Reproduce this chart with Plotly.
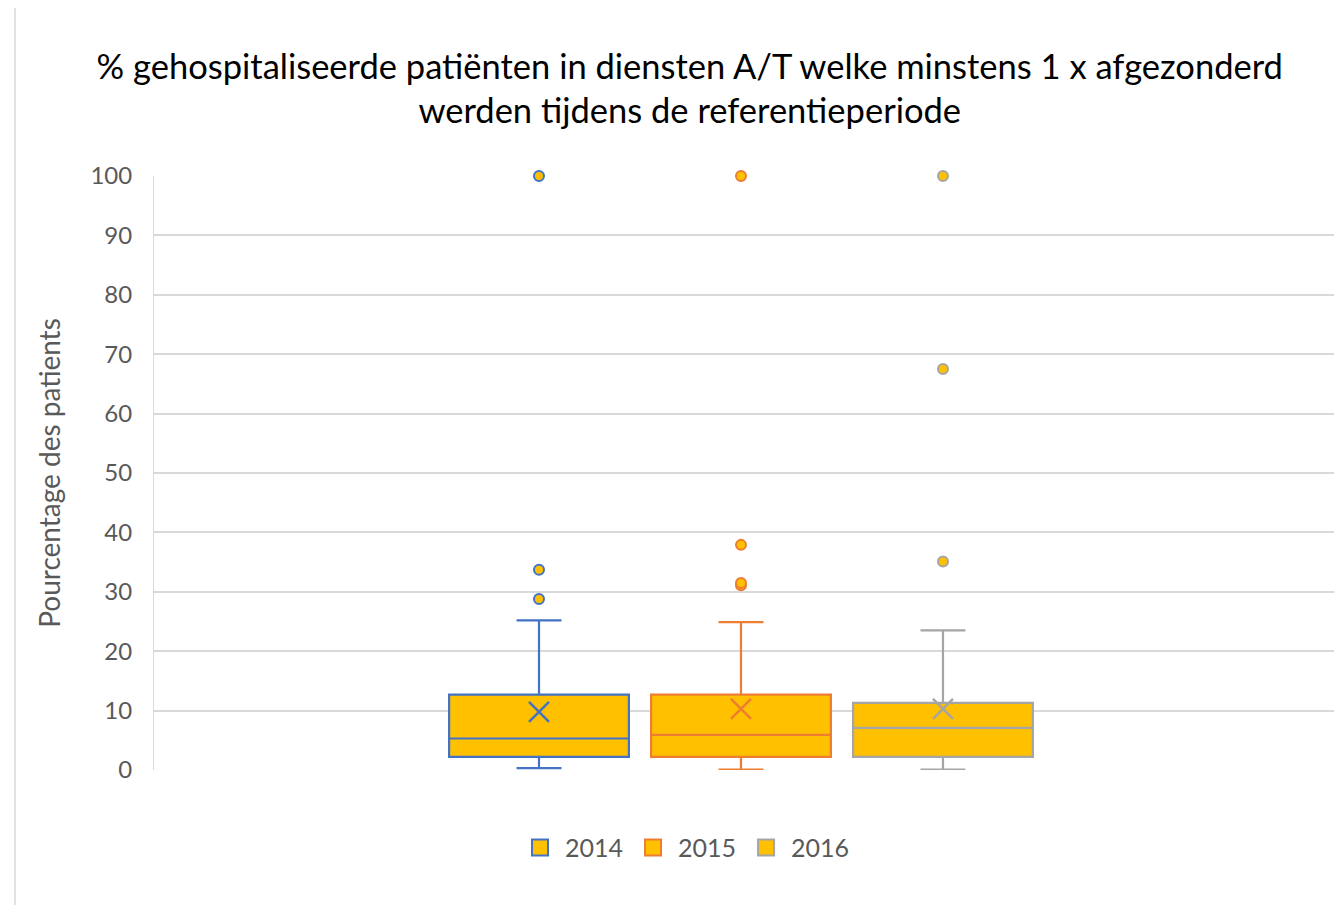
import plotly.graph_objs as go

years = ['2014', '2015', '2016']
colors = ['#4472C4', '#ED7D31', '#A5A5A5']

q1 = [2.2, 2.2, 2.2]
median = [5.3, 5.9, 7.1]
q3 = [12.7, 12.7, 11.3]
lower_whisker = [0.3, 0.05, 0.05]
upper_whisker = [25.2, 24.9, 23.5]
mean = [9.8, 10.3, 10.3]
outliers = [
    [28.8, 33.7, 100],
    [31.1, 31.5, 37.9, 100],
    [35.1, 67.5, 100],
]

title_text = ('% gehospitaliseerde patiënten in diensten A/T welke minstens 1 x afgezonderd'
              '<br>werden tijdens de referentieperiode')

font = 'Lato, Noto Sans, sans-serif'

graph = []
for i, year in enumerate(years):
    graph.append(
      go.Box(
      x = [year],
      q1 = [q1[i]],
      median = [median[i]],
      q3 = [q3[i]],
      lowerfence = [lower_whisker[i]],
      upperfence = [upper_whisker[i]],
      name = year,
      showlegend = False,
      boxpoints = False,
      width = 0.89,
      whiskerwidth = 0.25,
      fillcolor = '#FFC000',
      line = dict(color=colors[i], width=2.2)
      )
    )
    graph.append(
      go.Scatter(
      x = [year] * len(outliers[i]),
      y = outliers[i],
      mode = 'markers',
      showlegend = False,
      cliponaxis = False,
      hoverinfo = 'y',
      marker = dict(symbol='circle', size=10, color='#FFC000',
                    line=dict(color=colors[i], width=2))
      )
    )
    graph.append(
      go.Scatter(
      x = [year],
      y = [mean[i]],
      mode = 'markers',
      showlegend = False,
      cliponaxis = False,
      marker = dict(symbol='x-thin', size=20,
                    line=dict(color=colors[i], width=2.5))
      )
    )
    # legend entry only
    graph.append(
      go.Scatter(
      x = [None],
      y = [None],
      name = year,
      mode = 'markers',
      marker = dict(symbol='square', size=22, color='#FFC000',
                    line=dict(color=colors[i], width=2))
      )
    )

layout = dict(
    width = 1342, height = 905,
    paper_bgcolor = 'white', plot_bgcolor = 'white',
    font = dict(family=font, color='#595959'),
    margin = dict(l=146, r=0, t=168, b=143),
    title = dict(text=title_text, x=0.508, xanchor='center', xref='container',
                 y=0.922, yanchor='top', yref='container',
                 font=dict(size=34.5, color='black', family=font)),
    xaxis = dict(type='category', categoryorder='array', categoryarray=years,
                 range=[-1.906, 4.015], showticklabels=False, showgrid=False,
                 zeroline=False, showline=False, ticks=''),
    yaxis = dict(range=[0, 100], dtick=10, showgrid=True, gridcolor='#D9D9D9',
                 gridwidth=1.5, zeroline=False, showline=True, linecolor='#D9D9D9',
                 linewidth=1, tickfont=dict(size=24, color='#595959'),
                 ticklabelstandoff=16,
                 title=dict(text='Pourcentage des patients', standoff=21,
                            font=dict(size=28, color='#595959'))),
    legend = dict(orientation='h', x=0.444, xanchor='center', y=-0.131, yanchor='middle',
                  font=dict(size=25, color='#595959'), itemsizing='trace', itemwidth=40),
    shapes = [dict(type='rect', xref='paper', yref='paper',
                   x0=-0.1162, x1=1.05, y0=-0.3, y1=1.288,
                   line=dict(color='#D9D9D9', width=1.5), fillcolor='rgba(0,0,0,0)',
                   layer='below')],
)

fig = go.Figure(data=graph, layout=layout)
fig.write_html("out.html")
